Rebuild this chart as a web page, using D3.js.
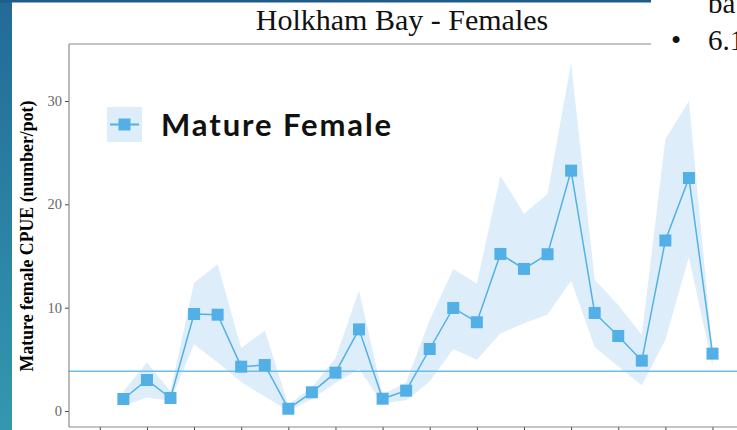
<!DOCTYPE html>
<html>
<head>
<meta charset="utf-8">
<script src="https://cdn.jsdelivr.net/npm/d3@7"></script>
<style>
  body { margin: 0; background: #fff; }
  svg { display: block; }
</style>
</head>
<body>
<svg id="chart" width="737" height="430"></svg>
<script>
// sampling occasions (index along the x axis)
const samples = d3.range(26);
// mean mature female CPUE per occasion
const cpue  = [1.16, 3.0, 1.26, 9.39, 9.32, 4.29, 4.45, 0.22, 1.81, 3.71, 7.9, 1.19, 1.97,
               6.0, 9.97, 8.59, 15.2, 13.75, 15.17, 23.26, 9.49, 7.26, 4.87, 16.5, 22.55, 5.55];
// confidence band
const upper = [1.9, 4.7, 1.9, 12.4, 14.2, 6.1, 7.8, 0.6, 2.3, 5.1, 11.65, 1.6, 2.75,
               8.8, 13.75, 12.35, 22.75, 19.1, 21.0, 33.7, 12.7, 10.26, 7.36, 26.3, 30.0, 5.9];
const lower = [0.5, 1.3, 1.0, 6.45, 4.7, 2.8, 1.4, 0.0, 1.15, 2.7, 4.1, 0.75, 1.05,
               2.85, 6.0, 4.95, 7.5, 8.5, 9.35, 12.6, 6.2, 4.3, 2.5, 6.9, 14.9, 4.3];
const refLevel = 3.85;
const xTicks = [-1, 1, 3, 5, 7, 9, 11, 13, 15, 17, 19, 21, 23, 25];
const yTicks = [0, 10, 20, 30];

const blue = '#52b0e6';
const band = '#ddeefa';
const serif = 'Liberation Serif, Times New Roman, serif';

const svg = d3.select('#chart');

const x = d3.scaleLinear().domain([-1, 25]).range([99.8, 712.5]);
const y = d3.scaleLinear().domain([0, 30]).range([411, 101]);

const data = samples.map(i => ({i: i, v: cpue[i], hi: upper[i], lo: lower[i]}));

// slide background bits
const defs = svg.append('defs');
const grad = defs.append('linearGradient').attr('id', 'strip').attr('x1', 0).attr('y1', 0).attr('x2', 0).attr('y2', 1);
grad.append('stop').attr('offset', '0%').attr('stop-color', '#236a98');
grad.append('stop').attr('offset', '100%').attr('stop-color', '#3398af');

svg.append('rect').attr('x', 0).attr('y', 0).attr('width', 12).attr('height', 430).attr('fill', 'url(#strip)');
svg.append('rect').attr('x', 0).attr('y', 0).attr('width', 651).attr('height', 2.5).attr('fill', '#1f5c88');

// title
svg.append('text')
  .attr('x', 402).attr('y', 30)
  .attr('text-anchor', 'middle')
  .attr('font-family', serif)
  .attr('font-size', 30)
  .attr('fill', '#111')
  .text('Holkham Bay - Females');

// ribbon
svg.append('path')
  .datum(data)
  .attr('fill', band)
  .attr('d', d3.area().x(d => x(d.i)).y0(d => y(d.lo)).y1(d => y(d.hi)));

// reference level
svg.append('line')
  .attr('x1', 69).attr('x2', 737)
  .attr('y1', y(refLevel)).attr('y2', y(refLevel))
  .attr('stroke', '#6dbce9').attr('stroke-width', 1.6);

// series line
svg.append('path')
  .datum(data)
  .attr('fill', 'none')
  .attr('stroke', blue)
  .attr('stroke-width', 1.5)
  .attr('d', d3.line().x(d => x(d.i)).y(d => y(d.v)));

svg.selectAll('.pt')
  .data(data)
  .join('rect')
  .attr('class', 'pt')
  .attr('x', d => x(d.i) - 6)
  .attr('y', d => y(d.v) - 6)
  .attr('width', 12).attr('height', 12)
  .attr('fill', blue);

// axes
const yAxis = svg.append('g')
  .attr('transform', 'translate(69,0)')
  .call(d3.axisLeft(y).tickValues(yTicks).tickSize(4).tickPadding(3));
yAxis.select('.domain').remove();
yAxis.selectAll('line').attr('stroke', '#444');
yAxis.selectAll('text')
  .attr('font-family', serif)
  .attr('font-size', 14.5)
  .attr('fill', '#666');

const xAxis = svg.append('g')
  .attr('transform', 'translate(0,427)')
  .call(d3.axisBottom(x).tickValues(xTicks).tickSize(5).tickFormat(''));
xAxis.select('.domain').remove();
xAxis.selectAll('line').attr('stroke', '#444');

// panel border
svg.append('line').attr('x1', 69).attr('x2', 69).attr('y1', 44).attr('y2', 427).attr('stroke', '#8a8a8a').attr('stroke-width', 1.2);
svg.append('line').attr('x1', 69).attr('x2', 737).attr('y1', 427).attr('y2', 427).attr('stroke', '#8a8a8a').attr('stroke-width', 1.2);
svg.append('line').attr('x1', 69).attr('x2', 651).attr('y1', 44).attr('y2', 44).attr('stroke', '#8a8a8a').attr('stroke-width', 1.2);

// y axis title
svg.append('text')
  .attr('transform', 'translate(33,236) rotate(-90)')
  .attr('text-anchor', 'middle')
  .attr('font-family', serif)
  .attr('font-weight', 'bold')
  .attr('font-size', 17.8)
  .attr('fill', '#000')
  .text('Mature female CPUE (number/pot)');

// legend
const leg = svg.append('g').attr('transform', 'translate(107,107)');
leg.append('rect').attr('width', 35).attr('height', 35).attr('fill', band);
leg.append('line').attr('x1', 3).attr('x2', 32).attr('y1', 17.5).attr('y2', 17.5).attr('stroke', blue).attr('stroke-width', 2);
leg.append('rect').attr('x', 11.5).attr('y', 11.5).attr('width', 12).attr('height', 12).attr('fill', blue);
leg.append('text')
  .attr('x', 54).attr('y', 29)
  .attr('font-family', 'Lato, sans-serif')
  .attr('font-weight', 'bold')
  .attr('font-size', 31)
  .attr('letter-spacing', 1.9)
  .attr('fill', '#111')
  .text('Mature Female');

// slide text on the right
svg.append('text').attr('x', 708).attr('y', 13).attr('font-family', serif).attr('font-size', 29).attr('fill', '#111').text('ba');
svg.append('text').attr('x', 671).attr('y', 50).attr('font-family', serif).attr('font-size', 29).attr('fill', '#111').text('•');
svg.append('text').attr('x', 708).attr('y', 50).attr('font-family', serif).attr('font-size', 29).attr('fill', '#111').text('6.1');
</script>
</body>
</html>
